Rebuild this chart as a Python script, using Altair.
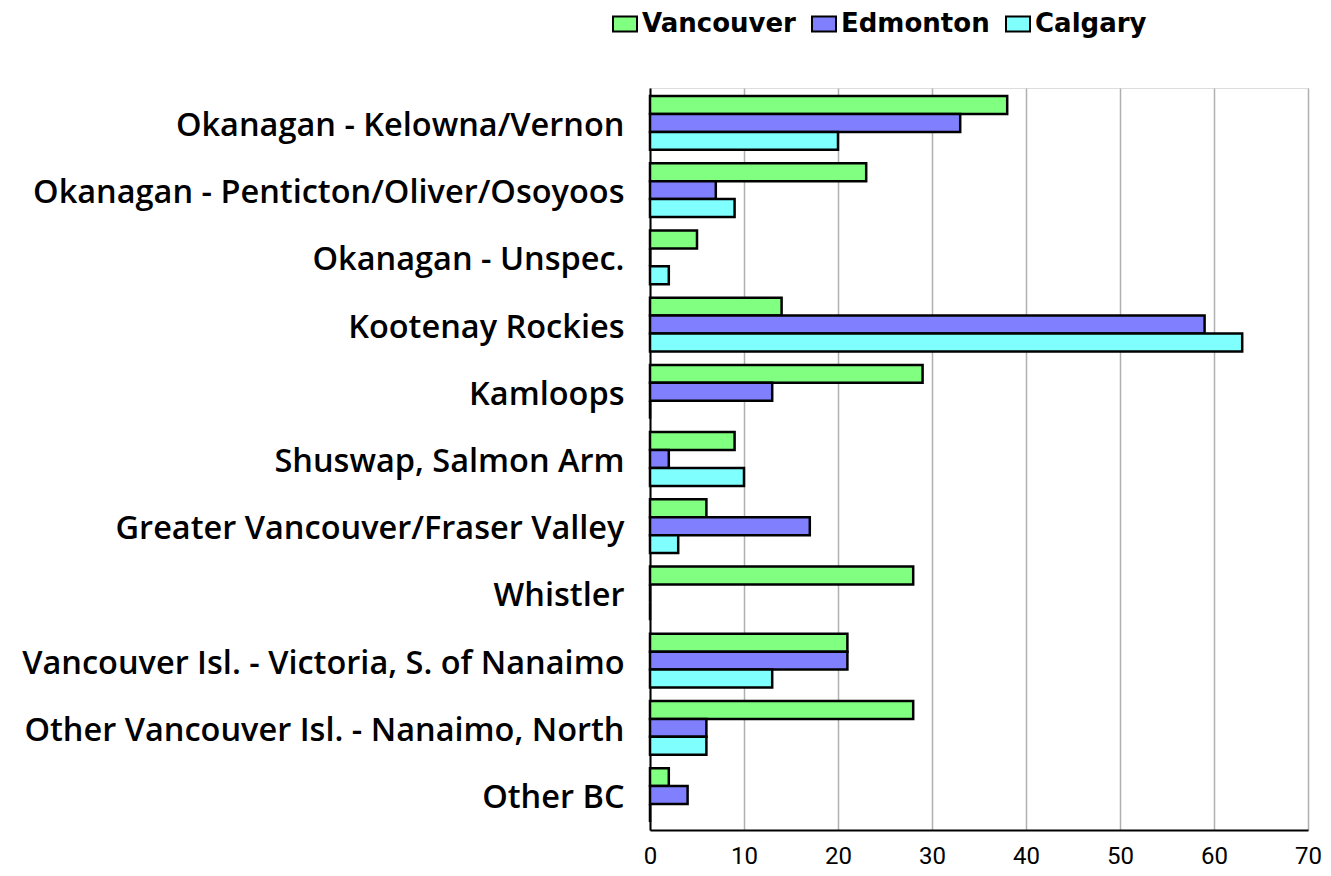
import altair as alt
import pandas as pd

categories = [
    "Okanagan - Kelowna/Vernon",
    "Okanagan - Penticton/Oliver/Osoyoos",
    "Okanagan - Unspec.",
    "Kootenay Rockies",
    "Kamloops",
    "Shuswap, Salmon Arm",
    "Greater Vancouver/Fraser Valley",
    "Whistler",
    "Vancouver Isl. - Victoria, S. of Nanaimo",
    "Other Vancouver Isl. - Nanaimo, North",
    "Other BC",
]
series = ["Vancouver", "Edmonton", "Calgary"]
vancouver = [38, 23, 5, 14, 29, 9, 6, 28, 21, 28, 2]
edmonton = [33, 7, 0, 59, 13, 2, 17, 0, 21, 6, 4]
calgary = [20, 9, 2, 63, 0, 10, 3, 0, 13, 6, 0]
colors = ["#80FF80", "#8080FF", "#80FFFF"]

rows = []
for s, vals in zip(series, [vancouver, edmonton, calgary]):
    for c, v in zip(categories, vals):
        rows.append({"Region": c, "City": s, "Value": v})
df = pd.DataFrame(rows)

chart = alt.Chart(df).mark_bar(stroke="black", strokeWidth=2.5).encode(
    y=alt.Y("Region:N", sort=categories, title=None,
            scale=alt.Scale(paddingInner=0.2, paddingOuter=0.12),
            axis=alt.Axis(labelFontSize=32.5, labelFontWeight=600, labelFont="Open Sans",
                          labelColor="black", labelLimit=700, ticks=False, labelPadding=26,
                          labelOffset=3,
                          domainColor="black", domainWidth=2, grid=False)),
    yOffset=alt.YOffset("City:N", sort=series, scale=alt.Scale(paddingInner=0, paddingOuter=0)),
    x=alt.X("Value:Q", title=None,
            scale=alt.Scale(domain=[0, 70], nice=False),
            axis=alt.Axis(values=list(range(0, 71, 10)), labelFontSize=24, labelFont="Roboto",
                          labelColor="black", ticks=False, labelPadding=14, labelFlush=False,
                          domainColor="black", domainWidth=2,
                          grid=True, gridColor="#b0b0b0", gridWidth=1.5)),
    color=alt.Color("City:N", sort=series,
                    scale=alt.Scale(domain=series, range=colors),
                    legend=alt.Legend(title=None, orient="none", direction="horizontal",
                                      legendX=-38, legendY=-77,
                                      symbolType="M-1,-0.62H1V0.62H-1Z", symbolSize=576,
                                      symbolStrokeColor="black", symbolStrokeWidth=2,
                                      symbolOpacity=1,
                                      labelFontSize=26, labelFontWeight="bold",
                                      labelFont="DejaVu Sans", labelColor="black",
                                      columnPadding=12, labelOffset=4)),
).properties(
    width=658, height=742,
    autosize=alt.AutoSizeParams(type="none"),
    padding={"left": 642, "top": 80, "right": 15, "bottom": 40},
).configure_view(stroke=None).configure(background="white")

chart.save("out.html", embed_options={"renderer": "svg", "actions": False})
